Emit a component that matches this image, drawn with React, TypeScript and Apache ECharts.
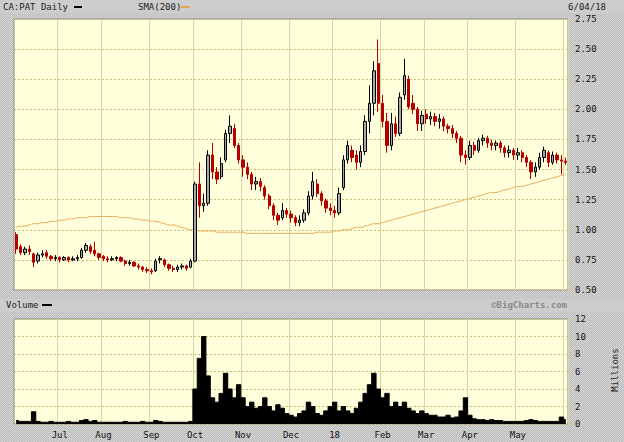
import React, { useEffect, useRef } from "react";
import * as echarts from "echarts";

const monthNames = ["Jun", "Jul", "Aug", "Sep", "Oct", "Nov", "Dec", "18", "Feb", "Mar", "Apr", "May", "Jun"];
const barsPerMonth = [10, 10, 11, 10, 11, 11, 10, 11, 10, 10, 11, 11, 1];
const priceTicks = { min: 0.5, max: 2.75, step: 0.25 };
const volumeTicks = { min: 0, max: 12, step: 2 };

// [open, close, low, high] per two-day bar
const ohlc: number[][] = [
  // Jun 2017
  [0.96, 0.84, 0.8, 0.98], [0.86, 0.81, 0.79, 0.88], [0.81, 0.84, 0.79, 0.86], [0.84, 0.82, 0.79, 0.87], [0.8, 0.73, 0.69, 0.81],
  [0.74, 0.79, 0.72, 0.81], [0.79, 0.8, 0.77, 0.83], [0.81, 0.78, 0.76, 0.83], [0.78, 0.76, 0.74, 0.79], [0.76, 0.77, 0.74, 0.79],
  // Jul
  [0.77, 0.75, 0.73, 0.78], [0.75, 0.77, 0.74, 0.78], [0.77, 0.75, 0.73, 0.78], [0.75, 0.76, 0.74, 0.78], [0.76, 0.77, 0.74, 0.79],
  [0.77, 0.83, 0.76, 0.85], [0.83, 0.87, 0.81, 0.89], [0.86, 0.82, 0.8, 0.88], [0.83, 0.8, 0.78, 0.9], [0.8, 0.77, 0.75, 0.81],
  // Aug
  [0.78, 0.76, 0.74, 0.79], [0.76, 0.75, 0.73, 0.78], [0.75, 0.76, 0.74, 0.78], [0.76, 0.77, 0.74, 0.78], [0.77, 0.74, 0.73, 0.78],
  [0.74, 0.72, 0.7, 0.75], [0.72, 0.73, 0.7, 0.75], [0.73, 0.7, 0.69, 0.74], [0.7, 0.69, 0.67, 0.72], [0.69, 0.67, 0.65, 0.7],
  [0.67, 0.66, 0.64, 0.69],
  // Sep
  [0.66, 0.65, 0.63, 0.68], [0.66, 0.74, 0.65, 0.76], [0.75, 0.76, 0.72, 0.78], [0.75, 0.71, 0.69, 0.76], [0.71, 0.68, 0.66, 0.72],
  [0.68, 0.67, 0.65, 0.7], [0.67, 0.69, 0.65, 0.71], [0.69, 0.7, 0.67, 0.72], [0.7, 0.68, 0.66, 0.71], [0.69, 0.74, 0.68, 0.76],
  // Oct
  [0.74, 1.38, 0.73, 1.4], [1.38, 1.2, 1.1, 1.56], [1.2, 1.22, 1.15, 1.3], [1.22, 1.62, 1.2, 1.66], [1.62, 1.48, 1.42, 1.72],
  [1.48, 1.42, 1.38, 1.52], [1.44, 1.55, 1.42, 1.6], [1.58, 1.8, 1.56, 1.83], [1.8, 1.86, 1.72, 1.95], [1.84, 1.7, 1.68, 1.88],
  [1.7, 1.58, 1.55, 1.72],
  // Nov
  [1.58, 1.52, 1.44, 1.62], [1.52, 1.46, 1.42, 1.56], [1.46, 1.38, 1.33, 1.48], [1.38, 1.4, 1.33, 1.44], [1.4, 1.36, 1.32, 1.43],
  [1.35, 1.28, 1.25, 1.37], [1.28, 1.2, 1.17, 1.3], [1.2, 1.12, 1.08, 1.22], [1.12, 1.08, 1.04, 1.14], [1.1, 1.16, 1.08, 1.22],
  [1.16, 1.13, 1.1, 1.18],
  // Dec
  [1.13, 1.1, 1.06, 1.16], [1.1, 1.06, 1.03, 1.12], [1.06, 1.08, 1.03, 1.12], [1.08, 1.14, 1.06, 1.17], [1.14, 1.28, 1.12, 1.32],
  [1.28, 1.4, 1.25, 1.48], [1.38, 1.3, 1.27, 1.42], [1.3, 1.24, 1.2, 1.32], [1.24, 1.18, 1.14, 1.26], [1.18, 1.16, 1.12, 1.22],
  // Jan 2018
  [1.16, 1.14, 1.1, 1.2], [1.14, 1.3, 1.12, 1.35], [1.35, 1.58, 1.33, 1.62], [1.58, 1.7, 1.55, 1.74], [1.66, 1.6, 1.56, 1.7],
  [1.62, 1.56, 1.5, 1.66], [1.56, 1.65, 1.52, 1.7], [1.65, 1.9, 1.62, 1.95], [1.9, 2.05, 1.8, 2.2], [2.05, 2.32, 1.95, 2.4],
  [2.38, 2.05, 1.98, 2.58],
  // Feb
  [2.05, 1.9, 1.85, 2.12], [1.9, 1.7, 1.64, 1.97], [1.7, 1.88, 1.66, 1.97], [1.88, 1.8, 1.77, 1.94], [1.8, 2.1, 1.78, 2.14],
  [2.12, 2.28, 2.08, 2.42], [2.25, 2.02, 2.0, 2.28], [2.05, 2.0, 1.96, 2.12], [2.0, 1.88, 1.82, 2.02], [1.88, 1.95, 1.82, 1.99],
  // Mar
  [1.96, 1.92, 1.88, 2.0], [1.92, 1.94, 1.87, 1.98], [1.94, 1.9, 1.86, 1.97], [1.9, 1.92, 1.84, 1.96], [1.92, 1.86, 1.82, 1.94],
  [1.86, 1.84, 1.8, 1.88], [1.84, 1.8, 1.76, 1.87], [1.8, 1.76, 1.72, 1.82], [1.76, 1.62, 1.56, 1.78], [1.62, 1.6, 1.54, 1.66],
  // Apr
  [1.6, 1.7, 1.58, 1.74], [1.7, 1.66, 1.62, 1.73], [1.66, 1.74, 1.64, 1.76], [1.74, 1.76, 1.7, 1.79], [1.76, 1.72, 1.68, 1.78],
  [1.72, 1.7, 1.66, 1.75], [1.7, 1.72, 1.66, 1.74], [1.72, 1.68, 1.64, 1.74], [1.68, 1.64, 1.6, 1.7], [1.64, 1.66, 1.6, 1.7],
  [1.66, 1.62, 1.58, 1.68],
  // May
  [1.62, 1.64, 1.58, 1.68], [1.64, 1.6, 1.56, 1.66], [1.6, 1.56, 1.52, 1.62], [1.56, 1.48, 1.42, 1.58], [1.48, 1.52, 1.44, 1.56],
  [1.52, 1.6, 1.5, 1.64], [1.6, 1.66, 1.56, 1.69], [1.64, 1.56, 1.52, 1.66], [1.56, 1.62, 1.54, 1.65], [1.62, 1.58, 1.55, 1.64],
  [1.58, 1.57, 1.46, 1.62],
  // Jun 2018
  [1.57, 1.56, 1.54, 1.6],
];

const sma200 = [
  1.02, 1.03, 1.03, 1.04, 1.05, 1.05, 1.06, 1.06, 1.07, 1.07,
  1.08, 1.08, 1.09, 1.09, 1.1, 1.1, 1.1, 1.11, 1.11, 1.11,
  1.11, 1.11, 1.11, 1.11, 1.1, 1.1, 1.1, 1.09, 1.09, 1.08, 1.08,
  1.07, 1.07, 1.06, 1.05, 1.04, 1.04, 1.03, 1.02, 1.01, 1.0,
  1.0, 0.99, 0.99, 0.99, 0.99, 0.98, 0.98, 0.98, 0.98, 0.98, 0.98,
  0.98, 0.97, 0.97, 0.97, 0.97, 0.97, 0.97, 0.97, 0.97, 0.97, 0.97,
  0.97, 0.97, 0.97, 0.97, 0.97, 0.97, 0.98, 0.98, 0.98, 0.98,
  0.99, 0.99, 1.0, 1.0, 1.01, 1.02, 1.02, 1.03, 1.04, 1.05, 1.05,
  1.06, 1.07, 1.08, 1.09, 1.1, 1.11, 1.12, 1.13, 1.14, 1.15,
  1.16, 1.17, 1.18, 1.19, 1.2, 1.21, 1.22, 1.23, 1.24, 1.25,
  1.26, 1.27, 1.28, 1.29, 1.3, 1.31, 1.31, 1.32, 1.33, 1.34, 1.35,
  1.36, 1.36, 1.37, 1.38, 1.39, 1.4, 1.41, 1.42, 1.43, 1.44, 1.45,
  1.46,
];

// millions of shares
const volume = [
  0.4, 0.3, 0.3, 0.3, 1.4, 0.3, 0.2, 0.2, 0.3, 0.2,
  0.2, 0.2, 0.3, 0.2, 0.2, 0.4, 0.5, 0.3, 0.4, 0.2,
  0.2, 0.2, 0.2, 0.2, 0.2, 0.3, 0.2, 0.2, 0.2, 0.3, 0.2,
  0.2, 0.4, 0.3, 0.2, 0.2, 0.2, 0.2, 0.2, 0.2, 0.3,
  4.0, 7.5, 10.0, 5.5, 3.0, 2.5, 3.5, 5.8, 4.0, 3.0, 4.5,
  3.0, 2.0, 2.5, 1.8, 2.0, 3.0, 2.0, 1.5, 2.2, 1.8, 1.2,
  1.0, 0.8, 1.2, 1.5, 2.5, 2.0, 1.2, 1.0, 1.5, 2.0,
  2.5, 1.5, 2.0, 1.5, 1.2, 1.8, 2.5, 3.5, 4.5, 5.8, 4.0,
  3.0, 3.5, 2.0, 2.5, 2.0, 2.5, 1.8, 1.5, 1.2, 1.5,
  1.2, 1.0, 1.0, 0.8, 0.8, 1.0, 0.7, 0.8, 1.5, 3.0,
  1.0, 0.6, 0.5, 0.5, 0.4, 0.5, 0.4, 0.4, 0.3, 0.3, 0.3,
  0.3, 0.3, 0.4, 0.5, 0.4, 0.3, 0.3, 0.3, 0.3, 0.3, 0.8,
  0.5,
];

const FONT = "DejaVu Sans Mono";

export default function App() {
  const ref = useRef<HTMLDivElement>(null);
  useEffect(() => {
    if (!ref.current) return;
    const chart = echarts.init(ref.current, undefined, { renderer: "svg" });

    const categories: string[] = [];
    const startLabel: Record<number, string> = {};
    barsPerMonth.forEach((n, m) => {
      startLabel[categories.length] = monthNames[m];
      for (let i = 0; i < n; i++) categories.push(monthNames[m] + "#" + m + "-" + i);
    });
    const lastMonthIdx = categories.length - barsPerMonth[barsPerMonth.length - 1];
    const isGrid = (i: number) => i in startLabel && i !== 0;
    const isLabel = (i: number) => i in startLabel && i !== 0 && i !== lastMonthIdx;

    const gridStyle = { show: true, backgroundColor: "#ffffdc", borderColor: "#8a8a8a", borderWidth: 1 };
    const vSplit = { show: true, interval: (i: number) => isGrid(i), lineStyle: { color: "#d9d5a2", width: 1 } };
    const hSplit = { show: true, lineStyle: { color: "#c9bd78", width: 1, type: [2, 2] as any } };
    const labelStyle = { color: "#111", fontFamily: FONT, fontSize: 9 };

    const candleData = ohlc.map((d) => [d[0], d[1], d[2], d[3]]);

    chart.setOption({
      animation: false,
      backgroundColor: "transparent",
      textStyle: { fontFamily: FONT },
      grid: [
        { ...gridStyle, left: 14, right: 56, top: 19, height: 271 },
        { ...gridStyle, left: 14, right: 56, top: 319, height: 105 },
      ],
      xAxis: [
        {
          type: "category", gridIndex: 0, data: categories, boundaryGap: true,
          axisLine: { show: false }, axisTick: { show: false }, axisLabel: { show: false },
          splitLine: vSplit,
        },
        {
          type: "category", gridIndex: 1, data: categories, boundaryGap: true,
          axisLine: { show: false }, axisTick: { show: false },
          axisLabel: {
            ...labelStyle, margin: 6,
            interval: (i: number) => isLabel(i),
            formatter: (v: string) => v.split("#")[0],
          },
          splitLine: vSplit,
        },
      ],
      yAxis: [
        {
          type: "value", gridIndex: 0, position: "right",
          min: priceTicks.min, max: priceTicks.max, interval: priceTicks.step,
          axisLine: { show: false }, axisTick: { show: false },
          axisLabel: { ...labelStyle, margin: 7, formatter: (v: number) => v.toFixed(2) },
          splitLine: hSplit,
        },
        {
          type: "value", gridIndex: 1, position: "right",
          min: volumeTicks.min, max: volumeTicks.max, interval: volumeTicks.step,
          axisLine: { show: false }, axisTick: { show: false },
          axisLabel: { ...labelStyle, margin: 7 },
          splitLine: hSplit,
        },
      ],
      series: [
        {
          type: "line", xAxisIndex: 0, yAxisIndex: 0, data: sma200, smooth: true,
          showSymbol: false, lineStyle: { color: "#e6a556", width: 1 }, z: 2,
        },
        {
          type: "candlestick", xAxisIndex: 0, yAxisIndex: 0, data: candleData, barWidth: "65%",
          itemStyle: { color: "#a8a8a8", borderColor: "#000", color0: "#b40000", borderColor0: "#b40000", borderWidth: 1 },
          z: 3,
        },
        {
          type: "line", xAxisIndex: 1, yAxisIndex: 1, data: volume, step: "middle",
          showSymbol: false, lineStyle: { color: "#000", width: 1 }, areaStyle: { color: "#000", opacity: 1 },
        },
      ],
      graphic: [
        { type: "rect", shape: { x: 0, y: 0, width: 624, height: 13 }, style: { fill: "#cdcdcd" }, z: -1 },
        { type: "rect", shape: { x: 0, y: 299, width: 624, height: 13 }, style: { fill: "#cdcdcd" }, z: -1 },
        { type: "text", x: 3, y: 7, style: { text: "CA:PAT Daily", fill: "#222", font: `9px "${FONT}"`, verticalAlign: "middle" } },
        { type: "rect", shape: { x: 74, y: 6, width: 8, height: 2 }, style: { fill: "#000" } },
        { type: "text", x: 138, y: 7, style: { text: "SMA(200)", fill: "#222", font: `9px "${FONT}"`, verticalAlign: "middle" } },
        { type: "rect", shape: { x: 181, y: 6, width: 9, height: 2 }, style: { fill: "#e6a556" } },
        { type: "text", x: 606, y: 7, style: { text: "6/04/18", fill: "#222", font: `9px "${FONT}"`, align: "right", verticalAlign: "middle" } },
        { type: "text", x: 6, y: 305, style: { text: "Volume", fill: "#222", font: `9px "${FONT}"`, verticalAlign: "middle" } },
        { type: "rect", shape: { x: 42, y: 304, width: 10, height: 2 }, style: { fill: "#000" } },
        { type: "text", x: 567, y: 305, style: { text: "©BigCharts.com", fill: "#8a8a8a", font: `bold 9px "${FONT}"`, align: "right", verticalAlign: "middle" } },
        { type: "text", x: 615, y: 370, rotation: Math.PI / 2, style: { text: "Millions", fill: "#222", font: `9px "${FONT}"`, align: "center", verticalAlign: "middle" } },
      ],
    });
    return () => chart.dispose();
  }, []);

  return (
    <div
      style={{
        position: "absolute", left: 0, top: 0, width: 624, height: 442,
        background: "repeating-conic-gradient(#bababa 0% 25%, #d6d6d6 0% 50%) 0 0 / 2px 2px",
      }}
    >
      <div ref={ref} style={{ width: 624, height: 442 }} />
    </div>
  );
}
